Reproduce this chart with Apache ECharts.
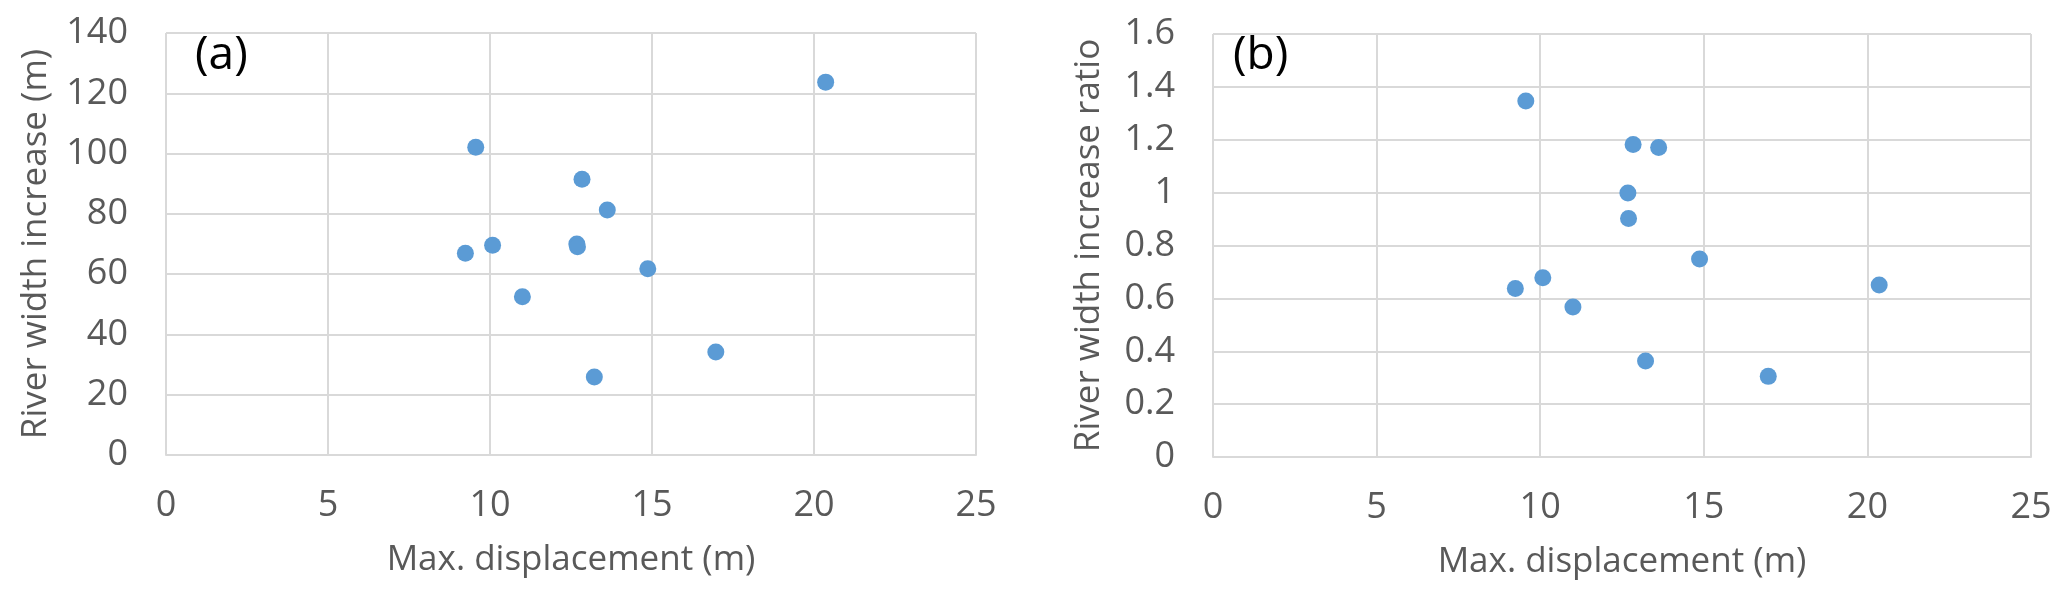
<!DOCTYPE html>
<html>
<head>
<meta charset="utf-8">
<script src="https://cdn.jsdelivr.net/npm/echarts@6/dist/echarts.min.js"></script>
<style>
html,body{margin:0;padding:0;background:#fff;}
#chart{width:2067px;height:607px;}
</style>
</head>
<body>
<div id="chart"></div>
<script>
// Data
const maxDisp   = [9.56, 12.84, 13.62, 12.68, 12.70, 10.08, 9.24, 14.87, 11.00, 13.22, 16.97, 20.36];
const widthInc  = [102.1, 91.5, 81.3, 70.0, 69.1, 69.6, 66.9, 61.8, 52.5, 25.9, 34.2, 123.7];
const widthRatio= [1.347, 1.182, 1.171, 0.999, 0.902, 0.678, 0.637, 0.749, 0.567, 0.363, 0.305, 0.651];
const panelLabels = ['(a)', '(b)'];
const xTitle = 'Max. displacement (m)';
const yTitles = ['River width increase (m)', 'River width increase ratio'];

const FONT = '"Open Sans", "Liberation Sans", sans-serif';
const TXT = '#595959';
const GRID = '#D9D9D9';
const BLUE = '#5B9BD5';

const chart = echarts.init(document.getElementById('chart'));

function xAxisCfg(idx){
  return {
    type:'value', gridIndex: idx, min:0, max:25, interval:5,
    name: xTitle, nameLocation:'middle', nameGap: 88,
    nameTextStyle:{fontFamily:FONT, fontSize:35, color:TXT},
    axisLine:{show:true, lineStyle:{color:GRID, width:2}},
    axisTick:{show:false},
    axisLabel:{fontFamily:FONT, fontSize:36, color:TXT, margin:33},
    splitLine:{show:true, lineStyle:{color:GRID, width:2}}
  };
}
function yAxisCfg(idx, max, interval, gap){
  return {
    type:'value', gridIndex: idx, min:0, max:max, interval:interval,
    name: yTitles[idx], nameLocation:'middle', nameGap: gap, nameRotate:90,
    nameTextStyle:{fontFamily:FONT, fontSize:35, color:TXT},
    axisLine:{show:false},
    axisTick:{show:false},
    axisLabel:{fontFamily:FONT, fontSize:36, color:TXT, margin:38},
    splitLine:{show:true, lineStyle:{color:GRID, width:2}}
  };
}

const dataA = maxDisp.map((x,i)=>[x, widthInc[i]]);
const dataB = maxDisp.map((x,i)=>[x, widthRatio[i]]);

chart.setOption({
  animation:false,
  backgroundColor:'#fff',
  grid:[
    {left:166, top:33, width:810, height:422},
    {left:1213, top:34, width:818, height:423}
  ],
  xAxis:[xAxisCfg(0), xAxisCfg(1)],
  yAxis:[yAxisCfg(0, 140, 20, 112), yAxisCfg(1, 1.6, 0.2, 106)],
  series:[
    {type:'scatter', xAxisIndex:0, yAxisIndex:0, data:dataA, symbolSize:17,
     itemStyle:{color:BLUE, opacity:1}},
    {type:'scatter', xAxisIndex:1, yAxisIndex:1, data:dataB, symbolSize:17,
     itemStyle:{color:BLUE, opacity:1}}
  ],
  graphic:[
    {type:'text', left:195, top:33, style:{text:panelLabels[0], fontFamily:FONT, fontSize:46, fill:'#000'}},
    {type:'text', left:1233, top:33, style:{text:panelLabels[1], fontFamily:FONT, fontSize:46, fill:'#000'}}
  ]
});
</script>
</body>
</html>
